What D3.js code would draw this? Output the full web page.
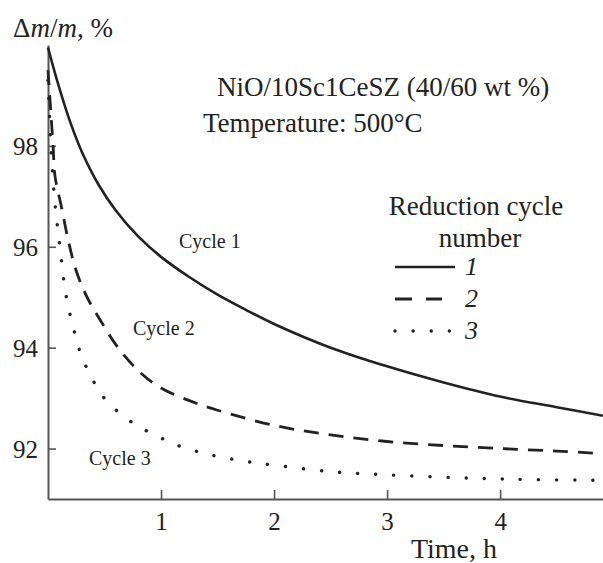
<!DOCTYPE html>
<html>
<head>
<meta charset="utf-8">
<script src="https://cdn.jsdelivr.net/npm/d3@7"></script>
<style>
  body { margin: 0; background: #fff; }
  svg { display: block; }
  svg text { font-family: "Liberation Serif", "DejaVu Serif", serif; }
</style>
</head>
<body>
<div id="chart"></div>
<script>
// curves: [time, h ; delta m / m, %]
let cycle1 = [[0, 99.95], [0.08, 99.3], [0.2, 98.45], [0.3, 97.88], [0.45, 97.22], [0.6, 96.72],
  [0.8, 96.2], [1.0, 95.8], [1.25, 95.4], [1.5, 95.05], [1.75, 94.75], [2.0, 94.47],
  [2.5, 94.0], [3.0, 93.63], [3.5, 93.31], [4.0, 93.03], [4.5, 92.82], [4.91, 92.65]]
let cycle2 = [[0, 99.5], [0.015, 99.0], [0.03, 98.5], [0.045, 98.0], [0.062, 97.4], [0.12, 96.78],
  [0.18, 96.12], [0.25, 95.52], [0.35, 94.98], [0.475, 94.5], [0.62, 94.0], [0.81, 93.52],
  [1.0, 93.2], [1.25, 92.95], [1.5, 92.76], [2.0, 92.46], [2.5, 92.27], [3.0, 92.14],
  [3.5, 92.06], [4.0, 92.0], [4.5, 91.95], [4.91, 91.9]]
let cycle3 = [[0, 99.3], [0.01, 98.8], [0.025, 98.0], [0.041, 97.45], [0.056, 97.0], [0.071, 96.65],
  [0.09, 96.28], [0.11, 95.92], [0.13, 95.52], [0.15, 95.17], [0.18, 94.8], [0.22, 94.44],
  [0.26, 94.08], [0.32, 93.71], [0.39, 93.39], [0.46, 93.11], [0.56, 92.85], [0.7, 92.59],
  [0.81, 92.42], [0.96, 92.26], [1.08, 92.12], [1.37, 91.91], [1.71, 91.76], [2.04, 91.66],
  [2.52, 91.54], [3.0, 91.48], [3.65, 91.42], [4.15, 91.39], [4.91, 91.37]]

let xTicks = [1, 2, 3, 4]
let yTicks = [92, 94, 96, 98]
let legendNames = ["1", "2", "3"]
let curveLabels = ["Cycle 1", "Cycle 2", "Cycle 3"]

let svgWidth = 603
let svgHeight = 563

let margin = { top: 45, left: 48, bottom: 64, right: 0 }
let width = svgWidth - margin.left - margin.right
let height = svgHeight - margin.top - margin.bottom

let ink = "#222"
let axisColor = "#555"
let serif = "Liberation Serif"

let svg = d3.select("#chart")
  .append("svg")
  .attr("width", svgWidth)
  .attr("height", svgHeight)
  .attr("font-family", serif)

let chartGroup = svg.append("g")
  .attr("transform", `translate(${margin.left}, ${margin.top})`)

let x = d3.scaleLinear().domain([0, 4.91]).range([0, width])
let y = d3.scaleLinear().domain([91, 100]).range([height, 0])

// axes: ticks point into the plot
let xAxis = d3.axisBottom(x).tickValues(xTicks).tickFormat(d3.format("d"))
  .tickSizeInner(-9).tickSizeOuter(0).tickPadding(14)
let yAxis = d3.axisLeft(y).tickValues(yTicks).tickFormat(d3.format("d"))
  .tickSizeInner(-8).tickSizeOuter(0).tickPadding(10)

let gx = chartGroup.append("g")
  .attr("transform", `translate(0, ${height})`)
  .call(xAxis)
let gy = chartGroup.append("g").call(yAxis)

;[gx, gy].forEach(g => {
  g.attr("font-family", serif)
  g.select(".domain").attr("stroke", axisColor).attr("stroke-width", 2)
  g.selectAll(".tick line").attr("stroke", axisColor).attr("stroke-width", 1.6)
  g.selectAll(".tick text").attr("fill", ink).attr("font-size", 25)
})
gx.selectAll(".tick text").attr("dy", "0.71em").attr("y", 13)
gy.selectAll(".tick text").attr("dy", "0.34em")

// curves
let line = d3.line()
  .x(d => x(d[0]))
  .y(d => y(d[1]))
  .curve(d3.curveCatmullRom.alpha(0.5))

let styles = [
  { dash: null, width: 2.6, cap: "butt" },
  { dash: "15 10", width: 2.8, cap: "butt" },
  { dash: "0.1 18", width: 3.4, cap: "round" }
]

;[cycle1, cycle2, cycle3].forEach((data, i) => {
  chartGroup.append("path")
    .datum(data)
    .attr("d", line)
    .attr("fill", "none")
    .attr("stroke", ink)
    .attr("stroke-width", styles[i].width)
    .attr("stroke-dasharray", styles[i].dash)
    .attr("stroke-linecap", styles[i].cap)
})

// text
svg.append("text")
  .attr("x", 13).attr("y", 37)
  .attr("font-size", 27).attr("fill", ink)
  .html('Δ<tspan font-style="italic">m</tspan>/<tspan font-style="italic">m</tspan>, %')

svg.append("text")
  .attr("x", 497).attr("y", 558)
  .attr("text-anchor", "end")
  .attr("font-size", 28).attr("fill", ink)
  .text("Time, h")

svg.append("text")
  .attr("x", 217).attr("y", 96)
  .attr("font-size", 27).attr("fill", ink)
  .text("NiO/10Sc1CeSZ (40/60 wt %)")

svg.append("text")
  .attr("x", 203).attr("y", 132)
  .attr("font-size", 27).attr("fill", ink)
  .text("Temperature: 500°C")

svg.append("text")
  .attr("x", 476).attr("y", 215)
  .attr("text-anchor", "middle")
  .attr("font-size", 27).attr("fill", ink)
  .text("Reduction cycle")

svg.append("text")
  .attr("x", 480).attr("y", 247)
  .attr("text-anchor", "middle")
  .attr("font-size", 27).attr("fill", ink)
  .text("number")

// legend
let legendY = [267, 299, 331]
let legendEnd = [455, 442, 455]
legendNames.forEach((name, i) => {
  svg.append("line")
    .attr("x1", 395).attr("x2", legendEnd[i])
    .attr("y1", legendY[i]).attr("y2", legendY[i])
    .attr("stroke", ink)
    .attr("stroke-width", styles[i].width)
    .attr("stroke-dasharray", i === 1 ? "17 14" : styles[i].dash)
    .attr("stroke-linecap", styles[i].cap)
  svg.append("text")
    .attr("x", 465).attr("y", legendY[i] + 8)
    .attr("font-size", 26).attr("font-style", "italic").attr("fill", ink)
    .text(name)
})

// curve labels
let labelPos = [[179, 248], [133, 335], [89, 465]]
curveLabels.forEach((t, i) => {
  svg.append("text")
    .attr("x", labelPos[i][0]).attr("y", labelPos[i][1])
    .attr("font-size", 20).attr("fill", ink)
    .text(t)
})
</script>
</body>
</html>
